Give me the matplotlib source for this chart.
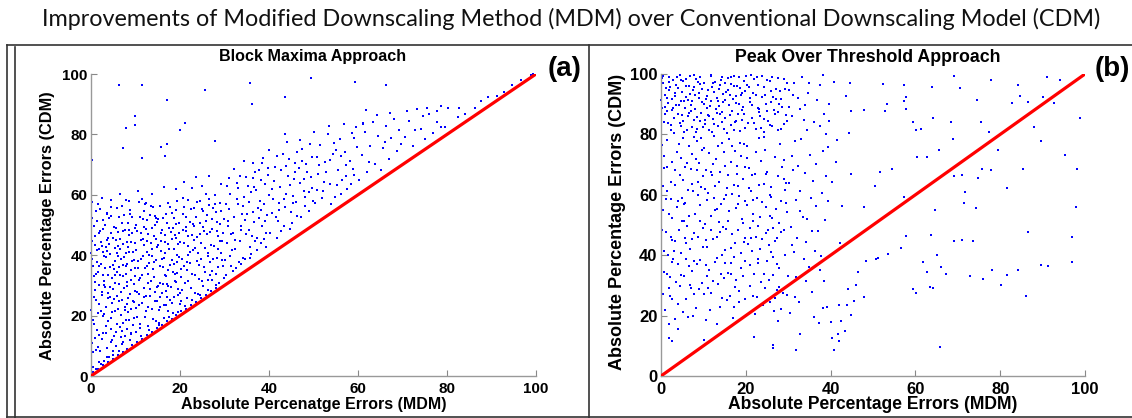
#!/usr/bin/env python3
# -*- coding: utf-8 -*-
"""
MDM vs CDM absolute percentage errors
--------------------------------------
(a) block maxima, (b) peak over threshold
each point: (MDM error, CDM error), red line = 1:1
"""
import matplotlib
matplotlib.use("Agg")
import matplotlib.pyplot as plt
from matplotlib.lines import Line2D

# === data: block maxima (a) ===
# dense part, x 0-10
bm_pts_0 = [
    (0.4,3.1),(0.8,12.5),(1.2,25.3),(0.3,38.7),(1.7,47.2),(2.1,8.4),(2.6,19.9),(3.0,31.6),(2.4,43.0),(3.5,54.1),
    (4.1,6.2),(4.4,15.7),(3.8,27.4),(4.9,36.8),(5.2,49.5),(5.7,9.8),(6.1,22.1),(5.5,33.3),(6.6,41.9),(6.9,56.3),
    (7.3,11.2),(7.8,18.6),(8.2,29.7),(7.5,39.4),(8.6,46.7),(9.1,13.9),(9.5,24.8),(8.9,35.2),(9.8,44.1),(9.3,52.8),
    (0.6,17.3),(1.1,33.9),(1.9,4.6),(2.8,14.2),(3.3,22.8),(3.9,45.6),(4.6,11.4),(5.0,28.9),(5.9,17.2),(6.3,30.4),
    (7.0,25.1),(7.6,48.2),(8.4,21.3),(9.0,31.7),(9.7,38.5),(0.2,44.8),(1.4,51.3),(2.3,37.1),(3.6,9.2),(4.2,40.3),
    (5.4,21.6),(6.4,36.2),(7.2,43.6),(8.0,15.4),(8.8,27.1),(9.6,19.3),(0.9,28.4),(1.6,20.7),(2.5,26.9),(3.1,49.9),
    (4.7,32.5),(5.6,44.9),(6.7,12.8),(7.9,33.8),(8.5,40.9),(9.2,47.5),(0.5,7.9),(1.3,41.6),(2.0,55.2),(2.9,30.2),
    (3.4,16.5),(4.0,52.4),(4.8,24.3),(5.3,38.1),(6.0,47.8),(6.8,20.2),(7.4,29.3),(8.1,37.2),(8.7,11.9),(9.4,41.2),
    (0.1,21.9),(1.0,46.3),(1.8,13.6),(2.7,48.6),(3.2,35.7),(3.7,41.3),(4.5,19.1),(5.1,13.1),(5.8,26.4),(6.2,52.7),
    (6.5,16.1),(7.1,36.9),(7.7,22.9),(8.3,50.6),(9.9,28.2),(0.7,33.1),(1.5,9.5),(2.2,21.5),(3.3,42.7),(4.3,29.6),
    (5.0,7.1),(6.0,39.9),(7.0,14.8),(8.0,44.5),(9.0,22.3),(0.3,57.6),(2.4,59.1),(4.4,58.2),(6.6,60.4),(8.6,57.9),
    (1.1,2.4),(2.9,5.1),(4.9,8.3),(6.9,10.6),(8.9,14.4),(1.9,36.3),(3.9,25.8),(5.9,34.6),(7.9,40.7),(9.9,49.1),
]
# x 10-20
bm_pts_10 = [
    (10.2,14.6),(10.7,27.3),(11.3,38.9),(11.8,49.2),(12.4,21.5),(12.9,33.7),(13.5,44.1),(14.0,55.8),(14.6,18.2),(15.1,29.9),
    (15.7,41.4),(16.2,52.3),(16.8,23.6),(17.3,35.1),(17.9,47.7),(18.4,20.9),(19.0,31.2),(19.5,43.8),(10.4,19.7),(11.0,32.4),
    (11.6,45.3),(12.1,56.9),(12.7,16.4),(13.2,28.8),(13.8,39.6),(14.3,50.1),(14.9,24.7),(15.4,36.5),(16.0,48.4),(16.5,19.1),
    (17.1,30.6),(17.6,42.2),(18.2,53.9),(18.7,26.1),(19.3,37.8),(19.8,50.5),(10.1,41.7),(10.9,52.6),(11.4,24.1),(12.2,35.9),
    (12.8,47.1),(13.6,22.3),(14.2,32.9),(14.7,45.5),(15.3,17.6),(15.9,27.5),(16.3,39.2),(17.0,50.8),(17.7,25.3),(18.3,38.4),
    (18.9,46.6),(19.6,28.7),(10.5,35.6),(11.1,17.2),(11.9,29.1),(12.6,41.1),(13.3,53.4),(13.9,18.8),(14.5,38.3),(15.0,51.9),
    (15.6,22.8),(16.6,33.3),(17.4,57.2),(18.0,29.4),(18.6,41.9),(19.2,55.1),(19.9,23.7),(10.3,47.9),(11.5,58.6),(12.3,26.6),
    (13.0,37.3),(14.4,27.9),(15.8,44.6),(16.9,28.2),(17.8,36.7),(18.5,48.9),(19.4,34.2),(10.8,23.4),(12.0,43.5),(13.4,31.5),
    (14.8,42.7),(16.1,36.1),(17.2,21.4),(18.8,33.9),(19.7,39.5),(10.6,61.3),(13.7,60.2),(16.4,62.7),(19.1,61.8),(11.2,13.1),
    (13.1,15.2),(15.2,16.9),(17.5,19.4),(19.5,21.3),(12.5,51.5),(14.1,46.2),(15.5,30.8),(16.7,44.3),(18.1,24.2),(19.0,45.7),
]
# x 20-30
bm_pts_20 = [
    (20.3,24.8),(20.8,36.5),(21.4,47.9),(21.9,58.3),(22.5,29.1),(23.0,41.6),(23.6,52.7),(24.1,27.2),(24.7,38.8),(25.2,49.4),
    (25.8,60.1),(26.3,31.9),(26.9,43.5),(27.4,55.6),(28.0,33.7),(28.5,46.2),(29.1,57.4),(29.6,36.4),(20.1,44.3),(20.6,53.8),
    (21.2,30.7),(21.7,40.2),(22.3,51.1),(22.8,62.4),(23.4,33.6),(23.9,45.9),(24.5,57.8),(25.0,31.4),(25.6,42.3),(26.1,53.2),
    (26.7,37.6),(27.2,48.7),(27.8,59.9),(28.3,39.1),(28.9,50.3),(29.4,44.7),(20.4,28.6),(21.0,56.1),(21.6,25.9),(22.2,37.3),
    (22.7,46.8),(23.3,27.5),(23.8,38.1),(24.4,50.6),(24.9,62.9),(25.5,36.2),(26.0,47.1),(26.6,58.6),(27.1,34.8),(27.7,42.9),
    (28.2,54.4),(28.8,30.9),(29.3,40.8),(29.9,52.1),(20.7,48.5),(21.5,35.2),(22.4,55.3),(23.2,44.9),(24.2,32.1),(25.1,54.7),
    (26.2,40.6),(27.3,51.9),(28.6,36.1),(29.7,47.3),(20.9,64.2),(23.7,65.8),(26.5,66.1),(29.2,63.5),(21.1,23.3),(22.6,25.1),
    (24.6,26.9),(26.4,28.4),(28.1,30.2),(29.8,32.6),(20.2,32.9),(21.8,43.1),(23.1,49.8),(24.8,44.2),(26.8,33.5),(28.4,48.1),
]
# more of the dense wedge, x 0-30
bm_pts_core = [
    (0.6,49.8),(1.3,15.2),(2.2,44.4),(3.7,6.3),(0.9,31.0),(4.3,36.1),(1.8,23.9),(5.6,14.7),(2.6,51.7),(6.8,27.7),
    (3.4,39.3),(7.5,53.2),(0.2,10.9),(8.1,31.1),(4.9,45.7),(9.4,16.8),(1.5,56.8),(5.2,25.4),(2.3,3.9),(6.1,43.2),
    (10.6,38.1),(3.0,20.5),(7.3,47.9),(11.8,26.2),(0.4,36.5),(8.8,55.1),(12.5,44.7),(4.6,52.9),(13.9,35.4),(1.1,8.7),
    (9.7,24.6),(14.6,52.2),(5.8,40.8),(2.8,33.3),(15.3,21.9),(10.2,50.1),(6.4,8.2),(16.7,40.7),(3.9,18.1),(11.5,33.6),
    (17.4,29.8),(7.8,36.5),(0.7,26.1),(12.3,57.4),(18.2,45.3),(4.4,47.3),(8.6,18.7),(19.6,26.9),(13.1,40.2),(1.9,41.9),
    (20.5,38.9),(9.1,44.3),(5.3,30.7),(14.4,24.8),(21.3,52.6),(2.5,12.1),(10.9,15.9),(22.7,33.9),(6.9,50.8),(15.8,47.5),
    (23.4,42.4),(3.2,29.4),(11.7,39.7),(24.9,55.2),(7.6,21.8),(16.9,33.1),(0.3,52.3),(25.6,34.4),(12.8,22.7),(8.3,42.8),
    (26.8,47.6),(4.1,43.8),(17.8,55.9),(13.6,49.1),(27.5,38.6),(9.9,35.8),(1.4,37.9),(18.7,37.1),(5.9,55.7),(28.9,44.6),
    (14.8,29.5),(2.1,47.9),(19.8,47.2),(10.4,27.9),(6.6,33.6),(20.1,27.4),(15.6,56.4),(3.6,53.6),(21.9,46.5),(11.3,47.2),
    (7.1,17.7),(22.4,29.3),(16.2,30.3),(0.8,43.4),(23.8,57.5),(12.9,30.8),(8.5,48.4),(24.3,36.7),(4.8,11.9),(17.3,43.6),
    (25.9,51.2),(13.4,56.2),(9.6,30.6),(1.7,30.1),(26.3,39.9),(18.6,52.4),(5.1,35.3),(27.9,57.1),(14.1,37.6),(10.7,57.6),
    (2.9,39.7),(19.4,40.1),(6.2,24.9),(28.6,42.1),(15.1,43.5),(0.5,18.6),(11.6,52.1),(20.6,59.1),(7.9,58.2),(3.5,45.1),
    (16.4,23.4),(21.7,31.6),(12.1,19.4),(8.4,25.7),(29.2,54.8),(4.7,21.3),(17.6,48.9),(22.9,50.3),(13.2,26.4),(1.2,54.5),
    (9.3,38.2),(18.9,31.6),(5.7,48.9),(24.1,40.8),(14.3,52.9),(2.4,27.8),(10.1,22.5),(25.4,48.1),(6.5,45.2),(19.3,57.9),
    (15.9,38.6),(3.3,14.3),(11.2,44.9),(26.6,56.5),(7.2,33.1),(20.9,43.9),(0.1,40.6),(16.8,53.7),(12.6,36.5),(27.3,31.7),
    (4.2,26.2),(8.7,53.6),(21.6,37.7),(17.1,26.3),(13.7,42.1),(28.3,50.9),(5.4,42.3),(9.8,33.2),(22.2,41.1),(1.6,34.6),
    (18.4,34.3),(14.9,51.1),(29.5,38.4),(6.7,38.9),(23.1,55.6),(10.8,31.9),(2.7,41.2),(19.2,50.3),(15.4,26.1),(7.7,13.4),
    (24.5,46.9),(11.9,54.5),(3.8,33.4),(20.3,35.5),(16.6,46.7),(8.2,23.8),(25.2,29.8),(12.4,48.6),(4.5,55.8),(21.4,49.4),
]
# x 30-60
bm_pts_30 = [
    (30.2,38.4),(30.8,49.6),(31.3,60.2),(31.9,34.7),(32.4,45.1),(33.0,56.8),(33.5,66.3),(34.1,39.2),(34.6,51.5),(35.2,62.9),
    (35.7,42.8),(36.3,54.3),(36.8,67.4),(37.4,45.6),(37.9,58.1),(38.5,49.7),(39.0,63.6),(39.6,53.2),(30.5,43.9),(31.1,55.3),
    (31.6,41.6),(32.2,52.7),(32.7,63.8),(33.3,37.9),(33.8,48.2),(34.4,59.4),(34.9,46.9),(35.5,57.6),(36.0,40.4),(36.6,50.9),
    (37.1,61.7),(37.7,52.4),(38.2,44.1),(38.8,56.9),(39.3,47.5),(39.9,59.8),(30.3,33.6),(31.4,36.4),(32.5,35.8),(33.6,37.2),
    (34.7,38.6),(35.8,39.1),(30.9,65.4),(32.1,68.7),(34.3,71.2),(36.4,70.6),(38.6,72.3),(39.7,68.9),(31.8,47.3),(33.9,53.6),
    (35.4,48.4),(36.9,44.7),(38.1,64.8),(39.4,42.6),(37.5,55.7),
    (40.3,47.2),(40.9,58.6),(41.4,69.1),(42.0,51.3),(42.5,62.7),(43.1,73.4),(43.6,55.9),(44.2,66.2),(44.7,48.8),(45.3,59.7),
    (45.8,70.5),(46.4,53.1),(46.9,63.9),(47.5,75.2),(48.0,56.4),(48.6,67.7),(49.1,60.8),(49.7,72.6),(40.6,53.9),(41.2,64.5),
    (41.7,45.8),(42.3,57.2),(42.8,68.3),(43.4,49.6),(43.9,60.4),(44.5,71.8),(45.0,54.2),(45.6,65.3),(46.1,57.5),(46.7,68.9),
    (47.2,52.6),(47.8,61.4),(48.3,70.1),(48.9,54.7),(49.4,65.9),(40.1,74.8),(44.0,77.6),(47.0,78.3),(49.9,58.1),(45.2,50.7),
    (50.4,57.3),(51.0,66.8),(51.5,76.4),(52.1,61.2),(52.6,70.7),(53.2,80.1),(53.7,63.5),(54.3,73.6),(54.8,59.4),(55.4,68.2),
    (55.9,78.5),(56.5,64.9),(57.0,74.3),(57.6,61.9),(58.1,71.2),(58.7,80.6),(59.2,66.6),(59.8,75.7),(50.7,72.5),(51.8,58.9),
    (52.9,67.4),(54.0,56.8),(55.1,74.9),(56.2,60.3),(57.3,69.8),(58.4,63.7),(59.5,82.3),(53.5,82.9),(56.8,83.4),(50.2,80.8),
    (30.7,51.4),(41.5,52.8),(33.4,44.6),(52.3,64.1),(36.7,62.5),(45.9,67.4),(31.2,39.8),(56.1,72.9),(38.3,54.9),(43.3,58.7),
    (34.8,65.9),(49.6,62.1),(32.8,58.6),(47.4,71.3),(37.2,41.6),(54.6,77.2),(39.8,66.7),(42.7,47.9),(35.1,53.7),(58.9,68.4),
    (30.4,57.1),(44.8,63.2),(36.1,46.3),(51.3,69.9),(33.1,62.4),(48.2,59.3),(38.9,45.2),(53.8,71.5),(31.5,47.1),(46.3,74.1),
    (40.7,61.9),(57.4,66.1),(34.2,56.3),(43.8,69.6),(37.8,68.2),(55.2,63.4),(32.3,41.9),(49.2,76.8),(39.2,51.3),(41.9,72.7),
    (35.9,60.8),(50.8,61.6),(33.7,49.8),(45.4,57.4),(38.4,70.4),(59.1,78.9),(30.6,62.9),(47.9,65.1),(36.3,65.7),(42.2,55.1),
]
# x 60-100, thinning out towards the 1:1 line
bm_pts_60 = [
    (60.3,64.8),(60.9,73.1),(61.5,80.7),(62.1,67.4),(62.7,76.2),(63.3,84.1),(63.9,70.3),(64.5,79.6),(65.1,68.1),(65.7,75.4),
    (66.3,82.7),(66.9,71.9),(67.5,78.8),(68.1,85.2),(68.7,74.6),(69.3,81.3),(61.2,83.5),(64.2,86.3),(67.2,87.1),(62.4,70.9),
    (66.0,77.5),(69.6,76.8),
    (70.5,79.2),(71.4,84.6),(72.3,76.1),(73.2,88.3),(74.1,81.9),(75.0,78.4),(75.9,86.7),(76.8,80.3),(77.7,84.1),(78.6,89.4),
    (79.5,82.6),(72.8,81.4),(74.6,86.2),(71.0,87.8),(75.5,88.8),(77.7,87.6),(78.6,82.5),
    (80.3,88.8),(82.8,88.8),(82.4,85.7),(84.1,86.9),(86.4,88.9),(87.6,91.2),(89.2,92.4),(91.2,92.6),(92.8,94.1),
    (94.5,96.3),(96.7,97.9),(98.9,99.6),(99.4,100.0),
]
# points sitting just above the 1:1 line
bm_pts_diag = [
    (0.5,1.2),(1.6,2.3),(2.7,3.5),(3.8,4.7),(4.9,5.6),(6.0,6.9),(7.1,7.9),(8.2,9.1),(9.3,10.2),(10.4,11.4),
    (11.5,12.3),(12.6,13.6),(13.7,14.5),(14.8,15.9),(15.9,16.8),(17.0,18.1),(18.1,19.0),(19.2,20.3),(20.3,21.4),(21.4,22.3),
    (22.5,23.6),(23.6,24.5),(24.7,25.9),(25.8,26.7),(26.9,28.1),(28.0,29.2),
]
# scattered outliers high above the cloud
bm_pts_out = [
    (6.3,96.3),(11.5,96.5),(17.1,91.3),(25.6,94.8),(35.7,97.0),(36.2,90.0),(49.5,98.6),(43.5,92.4),(59.4,97.3),(66.3,96.4),
    (61.8,88.0),(9.9,86.0),(9.8,83.0),(7.9,82.0),(7.2,75.4),(21.1,83.8),(20.0,81.5),(15.7,75.7),(17.1,76.7),(11.5,72.2),
    (16.6,73.0),(27.8,77.8),(43.7,80.2),(0.3,71.4),(61.2,83.7),
]

# === data: peak over threshold (b) ===
pot_pts_0 = [
    (0.3,98.7),(0.9,93.2),(1.4,87.6),(2.0,99.1),(2.5,91.8),(3.1,85.4),(3.6,96.3),(4.2,89.9),(4.7,82.7),(5.3,97.6),
    (5.8,92.4),(6.4,86.1),(6.9,99.4),(7.5,94.7),(8.0,88.3),(8.6,81.9),(9.1,96.8),(9.7,90.6),(0.6,84.1),(1.2,95.5),
    (1.7,90.3),(2.3,83.2),(2.8,97.9),(3.4,92.6),(3.9,86.8),(4.5,99.6),(5.0,94.1),(5.6,88.7),(6.1,81.3),(6.7,96.1),
    (7.2,91.1),(7.8,84.9),(8.3,98.2),(8.9,93.7),(9.4,87.2),(9.9,82.4),(0.1,91.4),(1.0,89.1),(1.9,94.8),(3.0,80.6),
    (4.0,95.2),(4.9,86.4),(6.0,98.5),(7.0,87.9),(8.1,92.9),(9.2,84.3),(0.4,96.9),(2.6,88.1),(5.5,90.9),(7.7,99.8),
    (0.2,76.4),(0.8,68.9),(1.3,61.2),(1.8,53.7),(2.4,46.1),(2.9,38.6),(3.5,31.2),(4.0,23.8),(4.6,72.3),(5.1,64.8),
    (5.7,57.2),(6.2,49.6),(6.8,42.1),(7.3,34.7),(7.9,27.3),(8.4,77.9),(9.0,70.4),(9.5,62.7),(0.5,55.1),(1.1,47.6),
    (1.6,40.2),(2.2,32.8),(2.7,25.4),(3.3,18.9),(3.8,74.1),(4.4,66.5),(4.9,59.0),(5.5,51.4),(6.0,43.9),(6.6,36.4),
    (7.1,29.1),(7.7,79.3),(8.2,71.7),(8.8,64.2),(9.3,56.6),(9.8,49.1),(0.7,41.5),(1.5,33.9),(2.1,26.4),(2.6,70.8),
    (3.2,63.3),(3.7,55.8),(4.3,48.2),(4.8,40.7),(5.4,33.1),(5.9,25.6),(6.5,76.2),(7.0,68.6),(7.6,61.1),(8.1,53.5),
    (8.7,46.0),(9.2,38.4),(9.7,30.9),(0.4,62.9),(1.4,78.1),(2.3,58.6),(3.4,44.7),(4.5,29.8),(5.6,69.3),(6.7,52.9),
    (7.4,45.3),(8.5,37.1),(9.6,74.8),(0.9,21.8),(2.0,17.2),(4.1,15.6),(6.3,19.4),(8.3,22.6),(9.9,66.1),(5.2,78.7),
]
pot_pts_10 = [
    (10.2,97.1),(10.7,91.6),(11.3,86.2),(11.8,99.3),(12.4,93.9),(12.9,88.4),(13.5,82.9),(14.0,96.4),(14.6,90.8),(15.1,85.5),
    (15.7,98.6),(16.2,93.1),(16.8,87.7),(17.3,81.5),(17.9,95.9),(18.4,90.2),(19.0,84.8),(19.5,97.8),(10.4,83.6),(11.0,94.6),
    (11.6,89.3),(12.1,80.9),(12.7,97.4),(13.2,92.1),(13.8,86.6),(14.3,99.0),(14.9,81.8),(15.4,94.2),(16.0,89.7),(16.5,83.1),
    (17.1,99.5),(17.6,92.8),(18.2,86.9),(18.7,95.3),(19.3,89.1),(19.8,82.2),(10.9,88.8),(12.2,85.1),(13.6,94.9),(15.0,91.4),
    (16.4,96.7),(17.7,84.5),(19.1,93.6),(14.5,87.4),(11.9,90.9),
    (10.1,75.6),(10.6,68.1),(11.2,60.5),(11.7,53.0),(12.3,45.4),(12.8,37.9),(13.4,30.3),(13.9,22.8),(14.5,77.2),(15.0,69.7),
    (15.6,62.1),(16.1,54.6),(16.7,47.0),(17.2,39.5),(17.8,31.9),(18.3,24.4),(18.9,72.9),(19.4,65.3),(19.9,57.8),(10.3,50.2),
    (10.8,42.7),(11.4,35.1),(11.9,27.6),(12.5,79.5),(13.0,71.9),(13.6,64.4),(14.1,56.8),(14.7,49.3),(15.2,41.7),(15.8,34.2),
    (16.3,26.6),(16.9,19.1),(17.4,74.6),(18.0,67.0),(18.5,59.5),(19.1,51.9),(19.6,44.4),(10.5,36.8),(11.1,29.3),(11.6,21.7),
    (12.2,70.3),(12.7,62.8),(13.3,55.2),(13.8,47.7),(14.4,40.1),(14.9,32.6),(15.5,25.1),(16.0,78.4),(16.6,70.8),(17.1,63.3),
    (17.7,55.7),(18.2,48.2),(18.8,40.6),(19.3,33.1),(19.8,25.5),(10.9,58.3),(12.0,66.7),(13.1,45.9),(14.2,33.8),(15.3,59.9),
    (16.4,42.4),(17.5,29.6),(18.6,77.1),(19.7,69.2),(15.9,51.3),
]
pot_pts_20 = [
    (20.3,96.2),(20.9,90.7),(21.4,85.3),(22.0,98.4),(22.5,92.9),(23.1,87.5),(23.6,82.1),(24.2,95.6),(24.7,90.1),(25.3,84.6),
    (25.8,97.7),(26.4,92.3),(26.9,86.8),(27.5,81.4),(28.0,94.5),(28.6,89.0),(29.1,83.6),(29.7,96.9),(20.6,83.9),(21.7,93.8),
    (22.8,88.6),(23.9,99.2),(25.0,87.9),(26.1,82.7),(27.2,95.1),(28.3,91.6),(29.4,86.4),(21.2,99.6),(24.4,80.8),(27.7,98.8),
    (20.2,76.3),(20.7,68.8),(21.3,61.2),(21.8,53.7),(22.4,46.1),(22.9,38.6),(23.5,31.0),(24.0,23.5),(24.6,74.9),(25.1,67.4),
    (25.7,59.8),(26.2,52.3),(26.8,44.7),(27.3,37.2),(27.9,29.6),(28.4,22.1),(29.0,71.6),(29.5,64.0),(20.4,56.5),(20.9,48.9),
    (21.5,41.4),(22.0,33.8),(22.6,26.3),(23.1,78.7),(23.7,71.2),(24.2,63.6),(24.8,56.1),(25.3,48.5),(25.9,41.0),(26.4,33.4),
    (27.0,25.9),(27.5,18.3),(28.1,76.8),(28.6,69.3),(29.2,61.7),(29.7,54.2),(20.5,43.6),(21.6,51.2),(22.7,58.9),(23.8,45.3),
    (24.9,38.2),(26.0,62.5),(27.1,55.4),(28.2,47.6),(29.3,40.1),(29.9,33.2),(21.1,36.7),(23.3,52.8),(25.5,31.9),(27.6,66.1),
    (28.8,27.4),(22.2,66.9),(24.5,29.1),(26.6,21.4),(20.8,62.2),
]
# more of the dense block, top band (80-100)
pot_pts_top = [
    (0.5,99.4),(1.8,97.2),(3.3,93.6),(4.8,98.1),(6.3,91.4),(7.9,95.7),(9.3,99.0),(10.8,92.6),(12.3,96.9),(13.7,89.4),
    (15.2,97.0),(16.9,91.8),(18.3,98.9),(19.8,94.3),(21.5,89.8),(22.9,96.5),(24.6,93.1),(26.2,99.1),(27.8,90.2),(29.3,94.9),
    (0.9,86.9),(2.4,81.4),(3.8,98.9),(5.2,84.6),(6.8,93.3),(8.2,80.9),(9.6,95.1),(11.1,86.5),(12.6,83.3),(14.1,98.0),
    (15.6,80.4),(17.2,96.0),(18.6,81.2),(20.1,99.3),(21.9,83.7),(23.4,86.1),(25.1,98.1),(26.7,88.2),(28.4,81.7),(30.1,89.2),
    (1.3,92.1),(2.9,88.9),(4.4,83.8),(5.9,95.9),(7.3,82.3),(8.8,97.5),(10.3,84.9),(11.7,99.8),(13.2,87.0),(14.7,93.5),
    (16.3,86.4),(17.7,90.5),(19.2,88.0),(20.8,95.8),(22.3,81.9),(23.9,92.4),(25.6,83.0),(27.2,91.7),(28.9,98.4),(31.4,97.1),
    (0.2,88.6),(1.6,83.9),(3.6,89.8),(5.5,80.7),(7.1,89.6),(8.5,85.8),(10.1,90.1),(12.0,95.6),(13.5,91.1),(15.9,94.6),
    (17.5,84.2),(19.5,86.7),(21.1,92.2),(22.6,99.0),(24.2,85.0),(26.0,94.4),(27.5,87.3),(29.6,84.5),(32.2,92.0),(33.8,84.9),
    (2.1,95.7),(4.6,91.0),(6.6,87.1),(9.0,92.0),(11.4,81.6),(14.4,84.0),(16.6,99.1),(18.9,93.0),(23.1,88.3),(25.9,90.8),
]
# more of the dense block, lower part
pot_pts_low = [
    (0.6,72.7),(2.3,64.3),(3.9,37.2),(5.4,56.9),(6.9,30.2),(8.4,68.1),(9.9,42.6),(11.4,73.9),(12.8,55.0),(14.3,25.8),
    (15.8,66.6),(17.4,44.2),(18.8,35.9),(20.3,72.1),(21.8,58.2),(23.3,41.9),(24.8,66.8),(26.3,48.9),(27.8,35.6),(29.4,57.3),
    (1.2,58.7),(2.7,44.9),(4.3,76.8),(5.8,38.7),(7.4,63.5),(8.9,28.9),(10.4,61.9),(11.9,48.4),(13.4,76.1),(14.8,58.5),
    (16.4,37.4),(17.9,69.4),(19.4,50.7),(20.9,29.7),(22.4,74.2),(23.9,57.6),(25.4,43.3),(26.9,72.4),(28.4,57.8),(31.2,68.3),
    (0.3,48.3),(1.9,29.2),(3.4,68.3),(4.9,51.2),(6.4,61.7),(7.9,47.5),(9.4,78.9),(10.9,33.2),(12.4,58.9),(13.9,67.7),
    (15.4,48.7),(16.8,60.1),(18.4,28.1),(19.9,38.1),(21.4,66.4),(22.9,49.7),(24.4,33.8),(25.9,59.3),(27.4,45.8),(28.9,65.2),
    (0.8,34.6),(2.5,52.4),(4.1,57.8),(5.6,45.6),(7.2,73.6),(8.7,59.8),(10.2,27.1),(11.8,67.4),(13.3,39.2),(14.9,74.3),
    (16.5,33.7),(18.1,57.1),(19.6,76.8),(21.2,45.6),(22.8,37.4),(24.3,79.1),(25.8,52.9),(27.3,28.4),(29.1,48.4),(32.8,54.7),
    (1.5,69.2),(3.1,41.4),(4.6,33.6),(6.1,70.4),(7.7,38.1),(9.2,51.4),(10.7,44.9),(12.2,31.3),(13.7,51.1),(15.2,37.3),
    (16.7,76.3),(18.2,62.8),(19.7,45.7),(21.7,26.6),(23.2,63.4),(24.7,47.2),(26.4,39.3),(27.9,50.7),(29.8,26.9),(34.1,31.4),
    (0.4,27.1),(2.6,37.6),(5.1,21.1),(7.6,19.9),(10.6,18.4),(13.1,17.3),(17.1,22.9),(22.1,20.4),(25.7,24.6),(30.4,20.9),
]
pot_pts_30 = [
    (30.3,94.6),(31.0,86.2),(31.6,77.9),(32.3,69.5),(32.9,61.1),(33.6,52.8),(34.2,44.4),(34.9,36.1),(35.5,27.7),(36.2,19.4),
    (36.8,91.3),(37.5,82.9),(38.1,74.6),(38.8,66.2),(39.4,57.9),(30.6,49.5),(31.3,41.2),(31.9,32.8),(32.6,24.5),(33.2,99.1),
    (33.9,89.8),(34.5,81.4),(35.2,73.1),(35.8,64.7),(36.5,56.4),(37.1,48.0),(37.8,39.7),(38.4,31.3),(39.1,23.0),(39.7,84.6),
    (30.8,72.7),(31.8,58.4),(32.7,88.3),(33.7,38.9),(34.6,93.7),(35.6,47.9),(36.6,70.2),(37.6,96.4),(38.6,51.6),(39.5,75.8),
    (30.1,63.8),(32.1,45.6),(34.0,67.3),(36.0,84.1),(38.0,60.5),
    (30.9,43.5),(33.1,78.5),(35.3,58.8),(37.4,35.1),(39.6,90.2),(41.2,70.8),(42.8,56.3),(44.3,80.5),(31.7,26.1),(34.4,52.1),
    (36.3,41.4),(38.5,86.7),(40.3,64.4),(42.1,43.9),(43.7,92.7),(31.1,93.2),(35.0,96.9),(38.9,80.1),(41.5,78.2),(44.9,66.8),
]
# sparse points right of ~40 and the low ones
pot_pts_out = [
    (38.2,99.7),(40.8,97.5),(44.5,96.9),(52.4,96.7),(57.2,96.5),(64.0,95.6),(69.1,99.3),(70.6,95.3),(77.9,98.0),(84.3,96.5),
    (91.0,99.1),(94.0,98.0),(84.6,92.8),(82.9,90.4),(86.5,90.6),(90.2,92.5),(92.8,90.5),(74.6,91.5),(57.9,92.5),(57.2,91.2),
    (53.2,90.0),(57.7,88.3),(52.8,87.9),(47.8,88.1),(44.7,87.6),(64.2,85.4),(68.5,84.0),(75.4,84.2),(87.9,82.3),(98.9,85.3),
    (59.4,84.2),(60.2,81.5),(61.4,81.7),(68.9,78.4),(77.4,80.8),(89.6,77.9),(79.5,74.9),(65.6,74.7),(60.3,72.5),(62.7,72.5),
    (95.2,73.2),(98.0,68.4),(75.7,68.7),(77.9,68.2),(85.4,68.4),(69.0,66.2),(71.0,66.7),(74.8,65.7),(81.5,62.3),(71.6,60.9),
    (71.4,57.2),(74.2,55.5),(64.6,54.9),(97.9,55.8),(57.2,59.4),(54.5,68.4),(51.6,67.7),(50.4,62.8),(47.9,56.0),(86.5,47.6),
    (97.0,46.1),(63.7,46.7),(69.2,44.8),(71.0,45.0),(73.5,44.8),(57.8,46.3),(56.5,42.3),(53.5,40.5),(65.2,40.0),(61.7,37.7),
    (66.0,36.1),(67.1,33.9),(62.7,34.4),(72.8,33.2),(75.9,32.1),(78.1,35.2),(81.5,33.3),(84.2,35.1),(89.7,36.9),(91.3,36.5),
    (96.9,37.9),(86.0,26.4),(80.1,30.1),(59.5,28.9),(60.1,27.6),(63.4,29.5),(64.1,29.2),(65.9,9.7),(50.6,38.9),(51.2,39.2),
    (48.3,38.2),(46.5,34.5),(46.0,30.2),(44.2,28.8),(47.8,26.3),(45.6,24.8),(42.0,23.4),(43.9,23.4),(44.7,20.2),(42.4,18.3),
    (43.5,15.0),(41.8,13.8),(42.0,11.7),(40.4,12.7),(40.9,8.6),(40.2,17.9),(37.2,17.4),(38.3,22.6),(32.7,13.8),(31.9,8.6),
    (26.4,9.2),(26.4,10.2),(21.9,13.0),(10.1,11.9),(2.7,11.6),(1.8,12.7),
]

TICKS = [0, 20, 40, 60, 80, 100]
ONE_TO_ONE = [0, 100]

SUPTITLE = "Improvements of Modified Downscaling Method (MDM) over Conventional Downscaling Model (CDM)"
YLABEL = "Absolute Percentage Errors (CDM)"
PANELS = [
    # points, panel title, tag, x label
    (bm_pts_0 + bm_pts_10 + bm_pts_20 + bm_pts_core + bm_pts_30 + bm_pts_60 + bm_pts_diag + bm_pts_out,
     "Block Maxima Approach", "(a)", "Absolute Percenatge Errors (MDM)"),
    (pot_pts_0 + pot_pts_10 + pot_pts_20 + pot_pts_top + pot_pts_low + pot_pts_30 + pot_pts_out,
     "Peak Over Threshold Approach", "(b)", "Absolute Percentage Errors (MDM)"),
]

W, H = 1132, 418
fig = plt.figure(figsize=(W / 100, H / 100), dpi=100)

def fx(px):
    return px / W

def fy(py):
    return 1 - py / H

# 外框线
frame_kw = dict(color="#333333", lw=1.2, transform=fig.transFigure)
fig.add_artist(Line2D([fx(7), fx(W)], [fy(45), fy(45)], **frame_kw))
fig.add_artist(Line2D([fx(7), fx(W)], [fy(417), fy(417)], **frame_kw))
fig.add_artist(Line2D([fx(7), fx(7)], [fy(45), fy(418)], **frame_kw))
fig.add_artist(Line2D([fx(15), fx(15)], [fy(47), fy(418)], **frame_kw))
fig.add_artist(Line2D([fx(589), fx(589)], [fy(45), fy(418)], **frame_kw))

fig.text(fx(571), fy(19), SUPTITLE, ha="center", va="center",
         fontsize=16.8, family="Lato", color="#111111")

# per panel layout (pixels): axes left/right, tag x, ylabel x, title x, font scale
layout = [
    dict(l=91, r=536, tag_x=565, ylab_x=48, ylab_y=226, title_x=313, scale=1.0),
    dict(l=661, r=1085, tag_x=1112, ylab_x=618, ylab_y=222, title_x=868, scale=1.1),
]
top_px, bot_px = 74, 376

for (pts, title, tag, xlabel), lay in zip(PANELS, layout):
    l, r, k = lay["l"], lay["r"], lay["scale"]
    ax = fig.add_axes([fx(l), fy(bot_px), fx(r - l), (bot_px - top_px) / H])
    xs = [p[0] for p in pts]
    ys = [p[1] for p in pts]
    ax.scatter(xs, ys, s=3.5, c="#0000ff", marker="s", linewidths=0, clip_on=False, zorder=2)
    ax.plot(ONE_TO_ONE, ONE_TO_ONE, color="#ff0000", lw=2.3, zorder=3, solid_capstyle="butt")

    ax.set_xlim(0, 100)
    ax.set_ylim(0, 100)
    ax.set_xticks(TICKS)
    ax.set_yticks(TICKS)
    tick_font = dict(fontsize=10.9 * k, fontweight="bold", family="Liberation Sans")
    ax.set_xticklabels([str(t) for t in TICKS], **tick_font)
    ax.set_yticklabels([str(t) for t in TICKS], **tick_font)
    ax.tick_params(direction="in", length=4, width=0.8, color="#888888")
    ax.tick_params(axis="x", pad=4.5)
    ax.tick_params(axis="y", pad=2.5)
    for side in ["top", "right"]:
        ax.spines[side].set_visible(False)
    for side in ["left", "bottom"]:
        ax.spines[side].set_color("#999999")
        ax.spines[side].set_linewidth(1.0)

    fig.text(fx((l + r) / 2), fy(404.5), xlabel, ha="center", va="center",
             fontsize=11.5 * k, fontweight="bold", family="Liberation Sans")
    fig.text(fx(lay["ylab_x"]), fy(lay["ylab_y"]), YLABEL, ha="center", va="center", rotation=90,
             fontsize=11.8 * k, fontweight="bold", family="Liberation Sans")
    fig.text(fx(lay["title_x"]), fy(57), title, ha="center", va="center",
             fontsize=11.6 * k, fontweight="bold", family="Liberation Sans")
    fig.text(fx(lay["tag_x"]), fy(69), tag, ha="center", va="center",
             fontsize=20, fontweight="bold", family="Liberation Sans")

fig.savefig("out.png", dpi=100)
print("saved out.png")
